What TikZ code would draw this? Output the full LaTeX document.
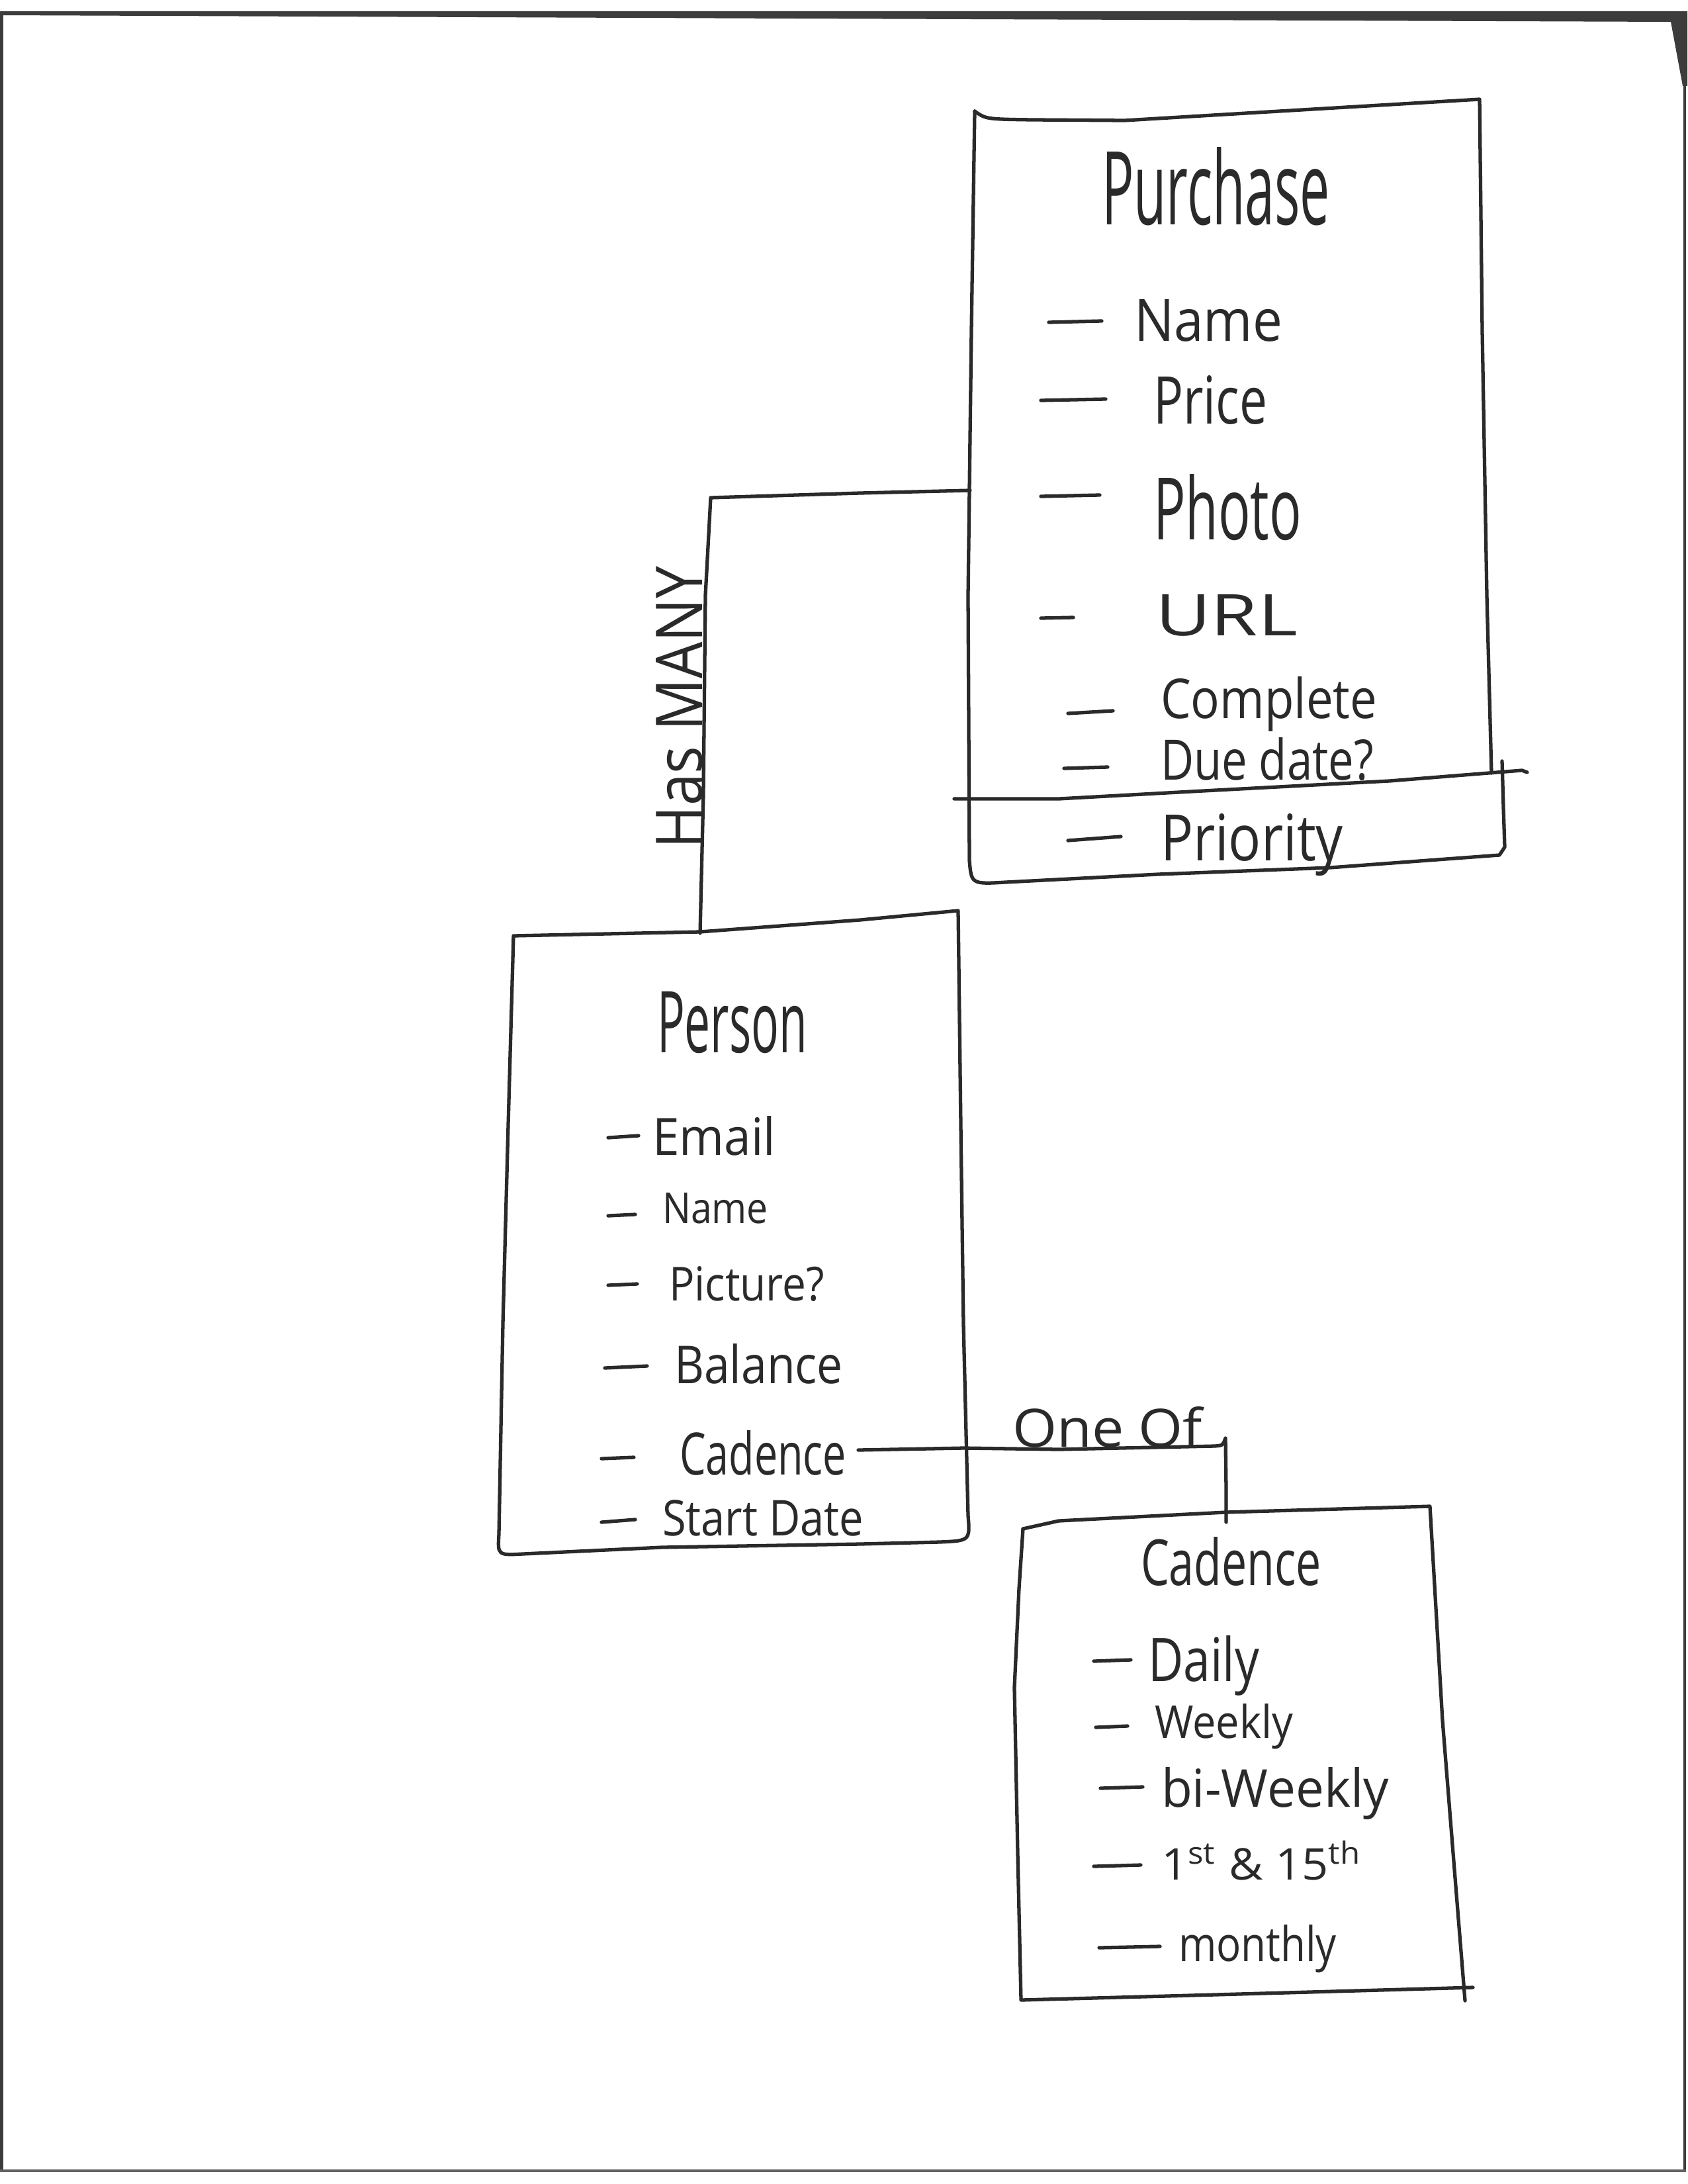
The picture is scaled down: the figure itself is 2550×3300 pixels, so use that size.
\documentclass[tikz,border=0pt]{standalone}
\usepackage{fontspec}
\setmainfont{Open Sans}
\usepackage{graphicx}
% one unit of the drawing grid
\newlength\pxu
\setlength\pxu{0.01cm}
% hand-lettered word: width, height (grid units), text
\newcommand\hw[3]{\resizebox{#1\pxu}{#2\pxu}{#3}}
\definecolor{ink}{HTML}{2A2A2A}
\definecolor{scan}{HTML}{3C3C3C}

\begin{document}
\begin{tikzpicture}[x=0.01cm,y=-0.01cm,
  ink/.style={draw=ink, line width=1.5pt, line cap=round, line join=round},
  dashmark/.style={draw=ink, line width=1.5pt, line cap=round},
  lbl/.style={anchor=base west, inner sep=0pt, outer sep=0pt, text=ink},
]
\useasboundingbox (0,0) rectangle (2550,3300);
\fill[white] (0,0) rectangle (2550,3300);

% sheet edge
\fill[scan] (0,17) -- (2550,17) -- (2550,130) -- (2543,130) -- (2525,33) -- (1200,28) -- (0,23) -- cycle;
\fill[scan] (0,17) rectangle (5,3282);
\fill[scan] (2544,17) rectangle (2548,3282);
\fill[scan!80] (0,3278) rectangle (2548,3282);

% ---------------- Purchase ----------------
\coordinate (pu-nw) at (1473,168);
\coordinate (pu-ne) at (2236,150);
\draw[ink] (pu-nw) .. controls (1490,180) .. (1560,181) -- (1700,182) -- (1900,170) -- (pu-ne)
  -- (2240,500) -- (2247,900) -- (2254,1168);
\draw[ink] (1442,1207) -- (1600,1207) -- (1800,1196) -- (2100,1180) -- (2300,1164) -- (2308,1167);
\draw[ink] (2270,1150) -- (2272,1220) -- (2274,1280) -- (2266,1292)
  -- (2010,1311) -- (1750,1321) -- (1520,1333) .. controls (1468,1336) .. (1465,1300)
  -- (1463,900) -- (1468,500) -- (pu-nw);

\node[lbl] (pu-title) at (1665,340) {\hw{345}{117}{Purchase}};
\draw[dashmark] (1585,487) -- (1665,485);
\node[lbl] (pu-name) at (1714,515) {\hw{224}{63}{Name}};
\draw[dashmark] (1573,605) -- (1671,603);
\node[lbl] (pu-price) at (1743,640) {\hw{172}{73}{Price}};
\draw[dashmark] (1573,750) -- (1662,748);
\node[lbl] (pu-photo) at (1743,815) {\hw{224}{99}{Photo}};
\draw[dashmark] (1573,934) -- (1622,933);
\node[lbl] (pu-url) at (1746,960) {\hw{215}{62}{URL}};
\draw[dashmark] (1614,1078) -- (1682,1074);
\node[lbl] (pu-complete) at (1754,1085) {\hw{327}{63}{Complete}};
\draw[dashmark] (1608,1161) -- (1674,1159);
\node[lbl] (pu-due) at (1754,1178) {\hw{322}{64}{Due date?}};
\draw[dashmark] (1614,1270) -- (1694,1264);
\node[lbl] (pu-priority) at (1754,1300) {\hw{276}{71}{Priority}};

% ---------------- Person ----------------
\coordinate (pe-nw) at (776,1414);
\coordinate (pe-ne) at (1448,1376);
\draw[ink] (pe-nw) -- (1058,1408) -- (1300,1390) -- (pe-ne)
  -- (1452,1700) -- (1456,2000) -- (1463,2290) .. controls (1466,2328) .. (1420,2330)
  -- (1300,2333) -- (1000,2338) -- (790,2348) .. controls (752,2350) .. (754,2318)
  -- (760,2000) -- (768,1700) -- (pe-nw);

\node[lbl] (pe-title) at (993,1590) {\hw{227}{92}{Person}};
\draw[dashmark] (919,1719) -- (965,1716);
\node[lbl] (pe-email) at (986,1745) {\hw{186}{59}{Email}};
\draw[dashmark] (919,1837) -- (960,1835);
\node[lbl] (pe-name) at (1001,1848) {\hw{160}{46}{Name}};
\draw[dashmark] (919,1942) -- (963,1940);
\node[lbl] (pe-picture) at (1011,1965) {\hw{235}{52}{Picture?}};
\draw[dashmark] (914,2067) -- (978,2064);
\node[lbl] (pe-balance) at (1019,2090) {\hw{255}{60}{Balance}};
\draw[dashmark] (909,2204) -- (958,2202);
\node[lbl] (pe-cadence) at (1027,2228) {\hw{252}{67}{Cadence}};
\draw[dashmark] (909,2300) -- (960,2296);
\node[lbl] (pe-start) at (1001,2320) {\hw{304}{54}{Start Date}};

% ---------------- Cadence ----------------
\coordinate (ca-nw) at (1546,2310);
\coordinate (ca-ne) at (2161,2276);
\draw[ink] (ca-nw) -- (1600,2298) -- (1852,2285) -- (ca-ne)
  -- (2180,2600) -- (2200,2850) -- (2214,3023);
\draw[ink] (ca-nw) -- (1540,2400) -- (1533,2550) -- (1538,2800) -- (1543,3022)
  -- (1800,3015) -- (2050,3008) -- (2226,3003);

\node[lbl] (ca-title) at (1724,2395) {\hw{273}{73}{Cadence}};
\draw[dashmark] (1653,2510) -- (1709,2508);
\node[lbl] (ca-daily) at (1735,2540) {\hw{168}{69}{Daily}};
\draw[dashmark] (1656,2610) -- (1704,2608);
\node[lbl] (ca-weekly) at (1745,2626) {\hw{209}{52}{Weekly}};
\draw[dashmark] (1663,2702) -- (1727,2700);
\node[lbl] (ca-biweekly) at (1755,2730) {\hw{344}{60}{bi-Weekly}};
\draw[dashmark] (1653,2820) -- (1724,2818);
\node[lbl] (ca-firstfifteenth) at (1755,2840) {\hw{304}{59}{1\textsuperscript{st} \& 15\textsuperscript{th}}};
\draw[dashmark] (1661,2943) -- (1753,2941);
\node[lbl] (ca-monthly) at (1781,2963) {\hw{239}{55}{monthly}};

% ---------------- relations ----------------
% Purchase -- Person : Has MANY
\coordinate (pu-hm) at (1466,741);
\coordinate (hm-bend) at (1074,752);
\coordinate (pe-hm) at (1058,1410);
\draw[ink] (pu-hm) -- (1300,745) -- (hm-bend) -- (1066,900) -- (1063,1200) -- (pe-hm);
\node[lbl, rotate=90] (hasmany) at (1061,1282) {\hw{426}{70}{Has MANY}};

% Person.Cadence -- Cadence : One Of
\coordinate (pe-cad-end) at (1297,2191);
\coordinate (oneof-bend) at (1852,2173);
\coordinate (ca-top) at (1853,2300);
\draw[ink] (pe-cad-end) -- (1457,2188) -- (1600,2190) -- (1836,2185) .. controls (1848,2184) .. (oneof-bend)
  -- (1853,2250) -- (ca-top);
\node[lbl] (oneof) at (1530,2186) {\hw{287}{61}{One Of}};

\end{tikzpicture}
\end{document}
